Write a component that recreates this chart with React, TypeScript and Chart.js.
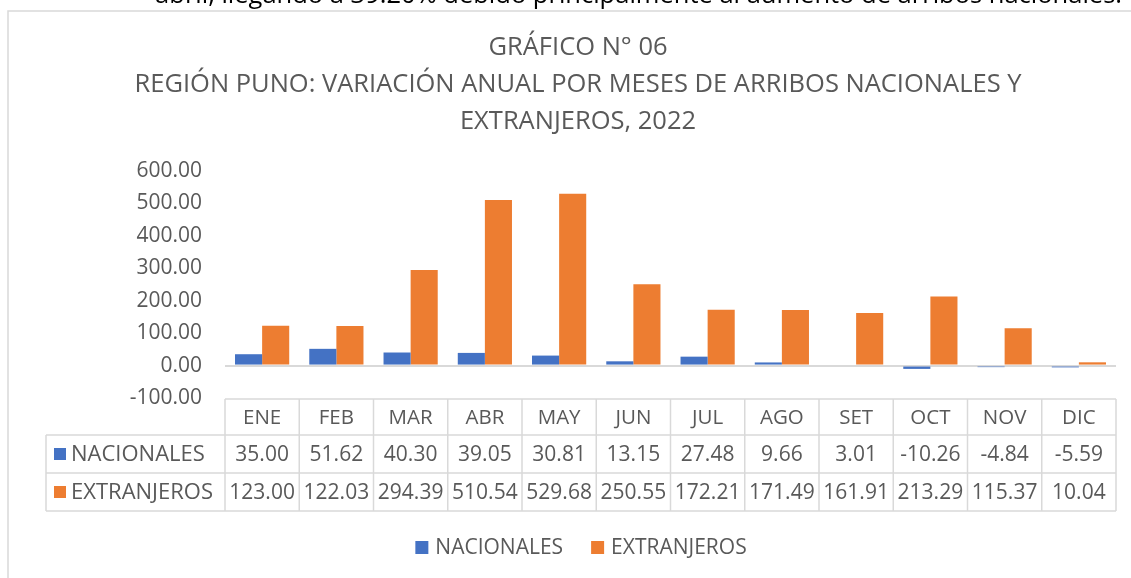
import React, { useEffect, useRef } from "react";
import { Chart, registerables } from "chart.js";

Chart.register(...registerables);

const months = ["ENE", "FEB", "MAR", "ABR", "MAY", "JUN", "JUL", "AGO", "SET", "OCT", "NOV", "DIC"];
const nacionales = [35.0, 51.62, 40.3, 39.05, 30.81, 13.15, 27.48, 9.66, 3.01, -10.26, -4.84, -5.59];
const extranjeros = [123.0, 122.03, 294.39, 510.54, 529.68, 250.55, 172.21, 171.49, 161.91, 213.29, 115.37, 10.04];
const seriesNames = ["NACIONALES", "EXTRANJEROS"];
const seriesColors = ["#4472C4", "#ED7D31"];
const titleLines = [
  "GRÁFICO N° 06",
  "REGIÓN PUNO: VARIACIÓN ANUAL POR MESES DE ARRIBOS NACIONALES Y",
  "EXTRANJEROS, 2022",
];
const topText = "abril, llegando a 39.20% debido principalmente al aumento de arribos nacionales.";
const yMin = -100;
const yMax = 600;
const yStep = 100;

const FONT = "'Open Sans', 'Noto Sans', sans-serif";
const TEXT = "#595959";
const GRID = "#d9d9d9";

const decorPlugin = {
  id: "decor",
  beforeDraw(chart: any) {
    const ctx = chart.ctx;
    ctx.save();
    ctx.fillStyle = "#ffffff";
    ctx.fillRect(0, 0, chart.width, chart.height);
    // cut-off paragraph line above the chart
    ctx.fillStyle = "#000000";
    ctx.font = `25.5px ${FONT}`;
    ctx.textBaseline = "alphabetic";
    ctx.textAlign = "right";
    ctx.fillText(topText, 1122, 3);
    // outer chart border
    ctx.strokeStyle = GRID;
    ctx.lineWidth = 1.5;
    ctx.beginPath();
    ctx.moveTo(8, chart.height + 2);
    ctx.lineTo(8, 11);
    ctx.lineTo(chart.width + 2, 11);
    ctx.stroke();
    // title
    ctx.fillStyle = TEXT;
    ctx.font = `25.5px ${FONT}`;
    ctx.textAlign = "center";
    ctx.textBaseline = "middle";
    const cx = 578;
    titleLines.forEach((t, i) => ctx.fillText(t, cx, 48 + i * 37));
    ctx.restore();
  },
  afterDraw(chart: any) {
    const ctx = chart.ctx;
    const xs = chart.scales.x;
    const n = months.length;
    const colW = xs.width / n;
    const left = xs.left;
    const right = xs.right;
    const hTop = 399;
    const r1 = 435;
    const r2 = 473;
    const r3 = 511;
    const labLeft = 46;
    ctx.save();
    ctx.strokeStyle = GRID;
    ctx.lineWidth = 1.5;
    ctx.beginPath();
    for (let i = 0; i <= n; i++) {
      const x = left + i * colW;
      ctx.moveTo(x, hTop);
      ctx.lineTo(x, r3);
    }
    ctx.moveTo(left, hTop);
    ctx.lineTo(right, hTop);
    [r1, r2, r3].forEach((y) => {
      ctx.moveTo(labLeft, y);
      ctx.lineTo(right, y);
    });
    ctx.moveTo(labLeft, r1);
    ctx.lineTo(labLeft, r3);
    ctx.stroke();

    ctx.fillStyle = TEXT;
    ctx.font = `20.5px ${FONT}`;
    ctx.textAlign = "center";
    ctx.textBaseline = "middle";
    months.forEach((m, i) => ctx.fillText(m, xs.getPixelForValue(i), (hTop + r1) / 2 + 1));
    const rows = [nacionales, extranjeros];
    const rowY = [(r1 + r2) / 2 + 1, (r2 + r3) / 2 + 1];
    rows.forEach((vals, r) => {
      ctx.fillStyle = TEXT;
      ctx.textAlign = "center";
      ctx.font = `21px ${FONT}`;
      vals.forEach((v, i) => ctx.fillText(v.toFixed(2), xs.getPixelForValue(i), rowY[r]));
      ctx.fillStyle = seriesColors[r];
      ctx.fillRect(54, rowY[r] - 7, 12, 12);
      ctx.fillStyle = TEXT;
      ctx.textAlign = "left";
      ctx.font = `22px ${FONT}`;
      ctx.fillText(seriesNames[r], 71, rowY[r]);
    });

    // legend
    ctx.font = `21px ${FONT}`;
    const gap = 28;
    const box = 13;
    const widths = seriesNames.map((s) => box + 7 + ctx.measureText(s).width);
    const total = widths[0] + gap + widths[1];
    let x = 581 - total / 2;
    const ly = 548;
    seriesNames.forEach((s, i) => {
      ctx.fillStyle = seriesColors[i];
      ctx.fillRect(x, ly - 7, box, box);
      ctx.fillStyle = TEXT;
      ctx.textAlign = "left";
      ctx.fillText(s, x + box + 7, ly);
      x += widths[i] + gap;
    });
    ctx.restore();
  },
};

export default function App() {
  const ref = useRef<HTMLCanvasElement | null>(null);
  useEffect(() => {
    if (!ref.current) return;
    const chart = new Chart(ref.current, {
      type: "bar",
      data: {
        labels: months,
        datasets: [
          { label: seriesNames[0], data: nacionales, backgroundColor: seriesColors[0] },
          { label: seriesNames[1], data: extranjeros, backgroundColor: seriesColors[1] },
        ],
      },
      options: {
        responsive: false,
        animation: false,
        layout: { padding: { top: 171, bottom: 180, left: 0, right: 15 } },
        datasets: { bar: { categoryPercentage: 0.73, barPercentage: 1 } },
        plugins: { legend: { display: false }, title: { display: false }, tooltip: { enabled: false } },
        scales: {
          x: { display: false },
          y: {
            min: yMin,
            max: yMax,
            afterFit: (s: any) => {
              s.width = 225;
            },
            border: { display: false },
            grid: {
              drawTicks: false,
              lineWidth: 2,
              color: (c: any) => (c.tick && c.tick.value === 0 ? GRID : "rgba(0,0,0,0)"),
            },
            ticks: {
              stepSize: yStep,
              padding: 23,
              color: TEXT,
              font: { family: FONT, size: 21 },
              callback: (v: any) => Number(v).toFixed(2),
            },
          },
        },
      },
      plugins: [decorPlugin],
    });
    return () => chart.destroy();
  }, []);
  return (
    <div style={{ position: "fixed", left: 0, top: 0, width: 1131, height: 578, background: "#fff" }}>
      <canvas ref={ref} width={1131} height={578} style={{ display: "block" }} />
    </div>
  );
}
